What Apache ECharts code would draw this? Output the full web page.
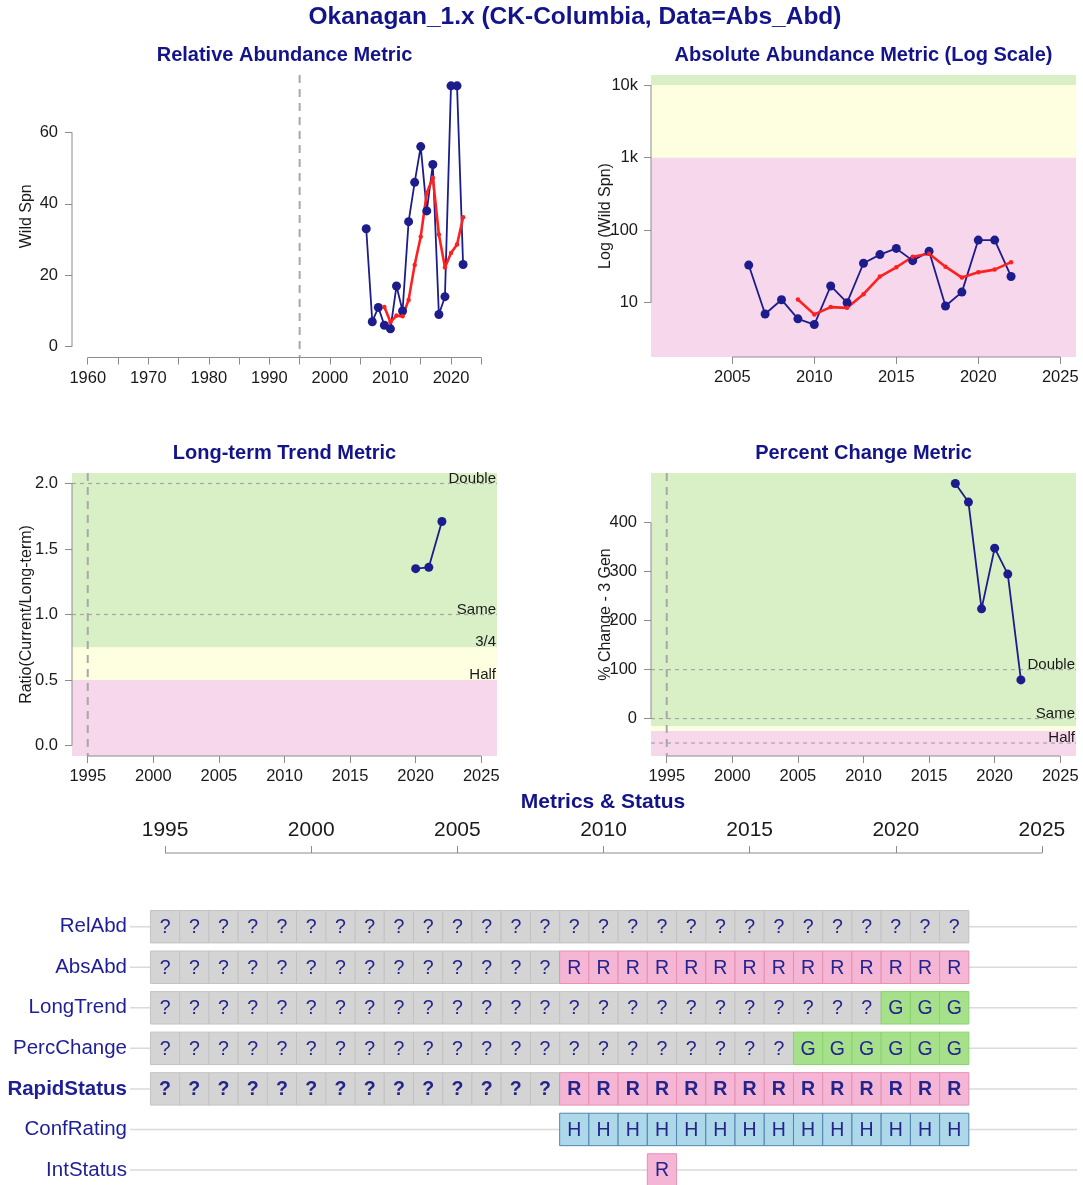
<!DOCTYPE html>
<html><head><meta charset="utf-8">
<script src="https://cdn.jsdelivr.net/npm/echarts@6/dist/echarts.min.js"></script>
<style>html,body{margin:0;padding:0;background:#fff}#c{width:1083px;height:1185px}</style>
</head><body><div id="c"></div>
<script>
// ---------------- DATA ----------------
const spnYears = [2006,2007,2008,2009,2010,2011,2012,2013,2014,2015,2016,2017,2018,2019,2020,2021,2022];
const wildSpn  = [33,7,11,6,5,17,10,35,46,56,38,51,9,14,73,73,23];
const avgYears = [2009,2010,2011,2012,2013,2014,2015,2016,2017,2018,2019,2020,2021,2022];
const avgSpn   = [11.1,6.9,8.7,8.5,13.1,22.9,30.8,43.0,47.3,31.4,22.2,26.2,28.6,36.2];
const ltYears  = [2020,2021,2022];
const ltRatio  = [1.35,1.36,1.71];
const pcYears  = [2017,2018,2019,2020,2021,2022];
const pcChange = [480,442,224,348,295,79];

const relXTicks = [1960,1965,1970,1975,1980,1985,1990,1995,2000,2005,2010,2015,2020,2025];
const relXLabels = [1960,1970,1980,1990,2000,2010,2020];
const relYTicks = [0,20,40,60];
const absXTicks = [2005,2010,2015,2020,2025];
const absYTicks = [10,100,1000,10000];
const absYLabels = ['10','100','1k','10k'];
const trendXTicks = [1995,2000,2005,2010,2015,2020,2025];
const ltYTicks = [0,0.5,1.0,1.5,2.0];
const pcYTicks = [0,100,200,300,400];

const absBandEdges = [1.786,1000,10000,13740];
const ltBandEdges = [-0.08,0.5,0.75,2.08];
const pcBandEdges = [-76.4,-25,-15,501.4];

const ltRefValues = [2.0,1.0,0.75,0.5];
const ltRefLabels = ['Double','Same','3/4','Half'];
const ltRefDashed = [true,true,false,false];
const pcRefValues = [100,0,-50];
const pcRefLabels = ['Double','Same','Half'];
const pcRefDashed = [true,true,true];

const statusYears = [1995,1996,1997,1998,1999,2000,2001,2002,2003,2004,2005,2006,2007,2008,2009,2010,2011,2012,2013,2014,2015,2016,2017,2018,2019,2020,2021,2022];
const rowNames = ['RelAbd','AbsAbd','LongTrend','PercChange','RapidStatus','ConfRating','IntStatus'];
const relAbdStatus = ['?','?','?','?','?','?','?','?','?','?','?','?','?','?','?','?','?','?','?','?','?','?','?','?','?','?','?','?'];
const absAbdStatus = ['?','?','?','?','?','?','?','?','?','?','?','?','?','?','R','R','R','R','R','R','R','R','R','R','R','R','R','R'];
const longTrendStatus = ['?','?','?','?','?','?','?','?','?','?','?','?','?','?','?','?','?','?','?','?','?','?','?','?','?','G','G','G'];
const percChangeStatus = ['?','?','?','?','?','?','?','?','?','?','?','?','?','?','?','?','?','?','?','?','?','?','G','G','G','G','G','G'];
const rapidStatus = ['?','?','?','?','?','?','?','?','?','?','?','?','?','?','R','R','R','R','R','R','R','R','R','R','R','R','R','R'];
const confRating = [null,null,null,null,null,null,null,null,null,null,null,null,null,null,'H','H','H','H','H','H','H','H','H','H','H','H','H','H'];
const intStatus = [null,null,null,null,null,null,null,null,null,null,null,null,null,null,null,null,null,'R',null,null,null,null,null,null,null,null,null,null];
const statusTicks = [1995,2000,2005,2010,2015,2020,2025];

// ---------------- STYLE ----------------
const FONT = '"Liberation Sans", Arial, Helvetica, sans-serif';
const BLUE = '#1c1c8c', RED = '#ff2020', NAVY = '#14148a', AXC = '#8c8c8c', TXT = '#1a1a1a';
const GREEN_BG = '#d9efc6', YELLOW_BG = '#fefee0', PINK_BG = '#f7d7eb';
const CELL = {
  '?': {fill:'#d4d4d4', stroke:'#c3c3c3'},
  'R': {fill:'#f5b6d6', stroke:'#e590b2'},
  'G': {fill:'#a6e08a', stroke:'#88d46c'},
  'H': {fill:'#acd8ea', stroke:'#5185b0'}
};
const CELLTXT = '#24248c';

function mkX(gi, min, max, ticks, labels) {
  return {type:'value', gridIndex:gi, min:min, max:max,
    axisLine:{show:false, onZero:false}, splitLine:{show:false},
    axisTick:{show:true, customValues:ticks, length:7, lineStyle:{color:AXC}},
    axisLabel:{customValues:labels, formatter:v=>String(v), fontSize:16.5, color:TXT, fontFamily:FONT, margin:12}};
}
function mkY(gi, min, max, ticks, fmt, name) {
  return {type:'value', gridIndex:gi, min:min, max:max,
    axisLine:{show:false, onZero:false}, splitLine:{show:false},
    axisTick:{show:true, customValues:ticks, length:7, lineStyle:{color:AXC}},
    axisLabel:{customValues:ticks, formatter:fmt, fontSize:16.5, color:TXT, fontFamily:FONT, margin:14},
    name:name, nameLocation:'middle', nameGap:37, nameMoveOverlap:false,
    nameTextStyle:{fontSize:16, color:TXT, fontFamily:FONT}};
}

function bandSeries(gi, edges, colors, rx) {
  return {type:'custom', xAxisIndex:gi, yAxisIndex:gi, z:1, silent:true,
    data: colors.map((c,i)=>[rx, edges[i]]),
    renderItem:(params, api)=>{
      const i = params.dataIndex, cs = params.coordSys;
      const yLo = api.coord([rx, edges[i]])[1], yHi = api.coord([rx, edges[i+1]])[1];
      return {type:'rect', shape:{x:cs.x, y:Math.min(yLo,yHi), width:cs.width, height:Math.abs(yLo-yHi)}, style:{fill:colors[i]}};
    }};
}
function refSeries(gi, values, labels, dashed, rx) {
  return {type:'custom', xAxisIndex:gi, yAxisIndex:gi, z:2, silent:true,
    data: values.map(v=>[rx, v]),
    renderItem:(params, api)=>{
      const i = params.dataIndex, cs = params.coordSys;
      const y = api.coord([rx, values[i]])[1];
      const ch = [];
      if (dashed[i]) ch.push({type:'line', shape:{x1:cs.x, y1:y, x2:cs.x+cs.width, y2:y}, style:{stroke:'#a6a6a6', lineWidth:1.2, lineDash:[4,4]}});
      ch.push({type:'text', style:{text:labels[i], x:cs.x+cs.width-1, y:y-5, textAlign:'right', textVerticalAlign:'middle', fontSize:15, fontFamily:FONT, fill:TXT}});
      return {type:'group', children:ch};
    }};
}
function vlineSeries(gi, xv, ry) {
  return {type:'custom', xAxisIndex:gi, yAxisIndex:gi, z:3, silent:true,
    data:[[xv, ry]],
    renderItem:(params, api)=>{
      const cs = params.coordSys, x = api.coord([xv, ry])[0];
      return {type:'line', shape:{x1:x, y1:cs.y, x2:x, y2:cs.y+cs.height}, style:{stroke:'#a8a8a8', lineWidth:2, lineDash:[8,6]}};
    }};
}
function axisLineSeries(gi, xTicks, yTicks, rx, ry, top) {
  return {type:'custom', xAxisIndex:gi, yAxisIndex:gi, z:6, silent:true,
    data:[[rx, ry]],
    renderItem:(params, api)=>{
      const cs = params.coordSys, ch = [];
      if (xTicks) {
        const xa = api.coord([xTicks[0], ry])[0], xb = api.coord([xTicks[xTicks.length-1], ry])[0];
        const y = top ? cs.y : cs.y + cs.height;
        ch.push({type:'line', shape:{x1:xa, y1:y, x2:xb, y2:y}, style:{stroke:AXC, lineWidth:1}});
      }
      if (yTicks) {
        const ya = api.coord([rx, yTicks[0]])[1], yb = api.coord([rx, yTicks[yTicks.length-1]])[1];
        ch.push({type:'line', shape:{x1:cs.x, y1:ya, x2:cs.x, y2:yb}, style:{stroke:AXC, lineWidth:1}});
      }
      return {type:'group', children:ch};
    }};
}
function pts(xs, ys) { return xs.map((x,i)=>[x, ys[i]]); }
function blueLine(gi, data) {
  return {type:'line', xAxisIndex:gi, yAxisIndex:gi, z:5, silent:true, data:data,
    symbol:'circle', symbolSize:9, showAllSymbol:true,
    lineStyle:{color:BLUE, width:1.8}, itemStyle:{color:BLUE}};
}
function redLine(gi, data) {
  return {type:'line', xAxisIndex:gi, yAxisIndex:gi, z:5, silent:true, data:data,
    symbol:'circle', symbolSize:4.5, showAllSymbol:true,
    lineStyle:{color:RED, width:2.6}, itemStyle:{color:RED}};
}

// status cells
const statusRowsData = [relAbdStatus, absAbdStatus, longTrendStatus, percChangeStatus, rapidStatus, confRating, intStatus];
const cellData = [], cellCodes = [];
statusRowsData.forEach((row, r) => {
  row.forEach((code, i) => {
    if (code !== null) { cellData.push([statusYears[i], r+1]); cellCodes.push(code); }
  });
});

const option = {
  animation:false,
  backgroundColor:'#ffffff',
  grid:[
    {left:72, top:75, width:425, height:282.5},
    {left:651, top:75, width:425, height:282},
    {left:72, top:473, width:425, height:283},
    {left:651, top:473, width:425, height:283},
    {left:130, top:853, width:947, height:332}
  ],
  xAxis:[
    mkX(0, 1957.4, 2027.6, relXTicks, relXLabels),
    mkX(1, 2000.04, 2025.96, absXTicks, absXTicks),
    mkX(2, 1993.8, 2026.2, trendXTicks, trendXTicks),
    mkX(3, 1993.8, 2026.2, trendXTicks, trendXTicks),
    {type:'value', gridIndex:4, position:'top', min:1993.8, max:2026.2,
      axisLine:{show:false, onZero:false}, splitLine:{show:false},
      axisTick:{show:true, customValues:statusTicks, length:7, lineStyle:{color:AXC}},
      axisLabel:{customValues:statusTicks, formatter:v=>String(v), fontSize:21, color:TXT, fontFamily:FONT, margin:12}}
  ],
  yAxis:[
    mkY(0, -3.02, 76.04, relYTicks, v=>String(v), 'Wild Spn'),
    {type:'log', logBase:10, gridIndex:1, min:absBandEdges[0], max:absBandEdges[3],
      axisLine:{show:false, onZero:false}, splitLine:{show:false}, minorTick:{show:false},
      axisTick:{show:true, customValues:absYTicks, length:7, lineStyle:{color:AXC}},
      axisLabel:{customValues:absYTicks, formatter:v=>{const k=Math.round(Math.log10(v)); const idx=absYTicks.findIndex(t=>Math.round(Math.log10(t))===k); return idx>=0?absYLabels[idx]:'';}, fontSize:16.5, color:TXT, fontFamily:FONT, margin:13},
      name:'Log (Wild Spn)', nameLocation:'middle', nameGap:37, nameMoveOverlap:false,
      nameTextStyle:{fontSize:16, color:TXT, fontFamily:FONT}},
    mkY(2, -0.08, 2.08, ltYTicks, v=>v.toFixed(1), 'Ratio(Current/Long-term)'),
    mkY(3, -76.4, 501.4, pcYTicks, v=>String(v), '% Change - 3 Gen'),
    {type:'value', gridIndex:4, inverse:true, min:-0.8175, max:7.37,
      axisLine:{show:false, onZero:false}, splitLine:{show:false}, axisTick:{show:false},
      axisLabel:{customValues:[1,2,3,4,5,6,7], margin:3, fontSize:20.5, color:'#1e1e96', fontFamily:FONT,
        formatter:v=>{const n=rowNames[Math.round(v)-1]||''; return n==='RapidStatus'?'{b|'+n+'}':n;},
        rich:{b:{fontWeight:'bold', fontSize:20.5, color:'#1e1e96', fontFamily:FONT}}}}
  ],
  graphic:[
    {type:'text', x:575, y:17, style:{text:'Okanagan_1.x (CK-Columbia, Data=Abs_Abd)', textAlign:'center', textVerticalAlign:'middle', fontSize:24.5, fontWeight:'bold', fontFamily:FONT, fill:NAVY}},
    {type:'text', x:284.5, y:55, style:{text:'Relative Abundance Metric', textAlign:'center', textVerticalAlign:'middle', fontSize:20, fontWeight:'bold', fontFamily:FONT, fill:NAVY}},
    {type:'text', x:863.5, y:55, style:{text:'Absolute Abundance Metric (Log Scale)', textAlign:'center', textVerticalAlign:'middle', fontSize:20, fontWeight:'bold', fontFamily:FONT, fill:NAVY}},
    {type:'text', x:284.5, y:453, style:{text:'Long-term Trend Metric', textAlign:'center', textVerticalAlign:'middle', fontSize:20, fontWeight:'bold', fontFamily:FONT, fill:NAVY}},
    {type:'text', x:863.5, y:453, style:{text:'Percent Change Metric', textAlign:'center', textVerticalAlign:'middle', fontSize:20, fontWeight:'bold', fontFamily:FONT, fill:NAVY}},
    {type:'text', x:603, y:802, style:{text:'Metrics & Status', textAlign:'center', textVerticalAlign:'middle', fontSize:21, fontWeight:'bold', fontFamily:FONT, fill:NAVY}}
  ],
  series:[
    // panel 0
    vlineSeries(0, 1995, 30),
    blueLine(0, pts(spnYears, wildSpn)),
    redLine(0, pts(avgYears, avgSpn)),
    axisLineSeries(0, relXTicks, relYTicks, 2000, 30, false),
    // panel 1
    bandSeries(1, absBandEdges, [PINK_BG, YELLOW_BG, GREEN_BG], 2010),
    blueLine(1, pts(spnYears, wildSpn)),
    redLine(1, pts(avgYears, avgSpn)),
    axisLineSeries(1, absXTicks, absYTicks, 2010, 10, false),
    // panel 2
    bandSeries(2, ltBandEdges, [PINK_BG, YELLOW_BG, GREEN_BG], 2010),
    refSeries(2, ltRefValues, ltRefLabels, ltRefDashed, 2010),
    vlineSeries(2, 1995, 1),
    blueLine(2, pts(ltYears, ltRatio)),
    axisLineSeries(2, trendXTicks, ltYTicks, 2010, 1, false),
    // panel 3
    bandSeries(3, pcBandEdges, [PINK_BG, YELLOW_BG, GREEN_BG], 2010),
    refSeries(3, pcRefValues, pcRefLabels, pcRefDashed, 2010),
    vlineSeries(3, 1995, 100),
    blueLine(3, pts(pcYears, pcChange)),
    axisLineSeries(3, trendXTicks, pcYTicks, 2010, 100, false),
    // status panel: row lines
    {type:'custom', xAxisIndex:4, yAxisIndex:4, z:1, silent:true,
      data: rowNames.map((n,i)=>[2010, i+1]),
      renderItem:(params, api)=>{
        const cs = params.coordSys, y = api.coord([2010, api.value(1)])[1];
        return {type:'line', shape:{x1:cs.x, y1:y, x2:cs.x+cs.width, y2:y}, style:{stroke:'#dadada', lineWidth:1.5}};
      }},
    // status cells
    {type:'custom', xAxisIndex:4, yAxisIndex:4, z:3, silent:true, data:cellData,
      renderItem:(params, api)=>{
        const x = api.value(0), r = api.value(1), code = cellCodes[params.dataIndex];
        const p0 = api.coord([x-0.5, r-0.4]), p1 = api.coord([x+0.5, r+0.4]);
        const st = CELL[code];
        const rx = Math.min(p0[0],p1[0]), ry = Math.min(p0[1],p1[1]);
        const w = Math.abs(p1[0]-p0[0]), h = Math.abs(p1[1]-p0[1]);
        return {type:'group', children:[
          {type:'rect', shape:{x:rx, y:ry, width:w, height:h}, style:{fill:st.fill, stroke:st.stroke, lineWidth:1}},
          {type:'text', style:{text:code, x:rx+w/2, y:ry+h/2+1, textAlign:'center', textVerticalAlign:'middle',
            fontSize:19.5, fontFamily:FONT, fontWeight:(r===5?'bold':'normal'), fill:CELLTXT}}
        ]};
      }},
    axisLineSeries(4, statusTicks, null, 2010, 1, true)
  ]
};
const chart = echarts.init(document.getElementById('c'));
chart.setOption(option);
</script>
</body></html>
